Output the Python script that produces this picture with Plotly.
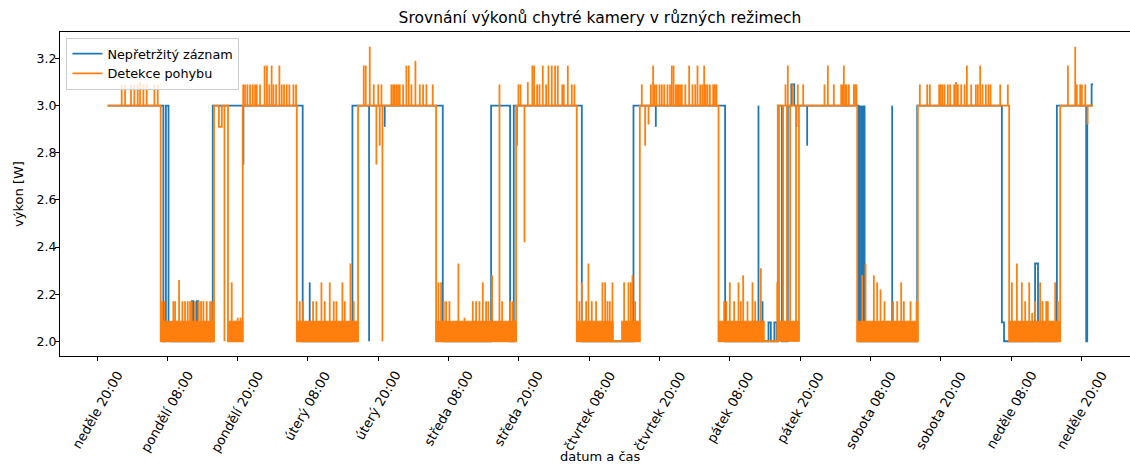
import numpy as np
import pandas as pd
import plotly.graph_objects as go

# casy jsou v hodinach od nedele 20:00
START = pd.Timestamp("2023-03-05 20:00")

# neprerusity zaznam - zmeny urovne (hodina, vykon)
blue_step_h = [1.82, 11.32, 11.75, 12.2, 12.6, 16.2, 16.45, 17.05, 17.3, 19.75,
               35.1, 43.59, 59.01, 67.26, 70.5, 71.13, 82.74, 91.56, 107.2, 114.6,
               115.0, 115.6, 116.0, 116.2, 116.9, 117.9, 118.5, 119.0, 130.0, 139.98,
               154.43, 154.8, 160.1, 160.6, 162.7, 163.0, 163.82, 168.83, 169.0, 169.75,
               170.0]
blue_step_v = [3.0, 2.0, 3.0, 2.08, 2.0, 2.17, 2.0, 2.17, 2.0, 3.0,
               2.0, 3.0, 2.0, 3.0, 2.0, 3.0, 2.0, 3.0, 2.0, 2.08,
               2.0, 2.08, 2.0, 3.0, 2.0, 3.0, 3.09, 3.0, 2.0, 3.0,
               2.08, 2.0, 2.33, 2.0, 2.08, 2.0, 3.0, 2.0, 3.0, 3.09,
               3.09]
# kratke spicky (hodina, vykon)
blue_spikes = [(24.98, 2.75), (36.3, 2.25), (46.43, 2.0), (49.1, 2.91), (95.37, 2.91),
               (112.89, 3.0), (113.58, 2.17), (119.38, 2.91), (121.2, 2.83),
               (130.2, 3.0), (130.4, 3.0), (130.6, 3.0), (130.8, 3.0), (131.0, 3.0),
               (135.71, 3.0)]

# detekce pohybu
orange_step_h = [1.82, 10.87, 19.97, 20.8, 21.3, 22.35, 24.87, 34.1, 44.55, 57.87,
                 71.53, 81.88, 92.64, 106.07, 116.2, 129.74, 140.09, 155.68, 164.39, 170.0]
orange_step_v = [3.0, 2.0, 3.0, 2.91, 3.0, 2.0, 3.0, 2.0, 3.0, 2.0,
                 3.0, 2.0, 3.0, 2.0, 3.0, 2.0, 3.0, 2.0, 3.0, 3.0]
# husty sum mezi 2.0 a 2.085 W behem dne
orange_band_start_h = [10.87, 22.35, 34.1, 57.87, 81.88, 89.56, 106.07, 116.4, 129.74, 155.68]
orange_band_end_h = [19.97, 24.87, 44.55, 71.53, 88.08, 92.64, 113.86, 119.8, 140.09, 164.39]
band_top = 2.085

orange_spikes = [
    # nedele noc
    (4.21, 3.09), (4.78, 3.09), (5.80, 3.09), (6.37, 3.09), (6.94, 3.09), (7.34, 3.10),
    (7.91, 3.09), (8.48, 3.09), (9.79, 3.09), (10.36, 3.09),
    # pondeli den
    (11.1, 2.17), (11.5, 2.17), (13.03, 2.17), (13.32, 2.17), (14.0, 2.26), (14.57, 2.17),
    (15.02, 2.17), (15.48, 2.17), (15.88, 2.17), (16.16, 2.17), (16.73, 2.17), (17.3, 2.17),
    (17.75, 2.17), (18.15, 2.17), (18.72, 2.17), (19.29, 2.17), (19.6, 2.17),
    (21.75, 2.0), (22.99, 2.25), (24.0, 2.1), (24.5, 2.1),
    # pondeli noc
    (24.95, 3.09), (25.26, 3.09), (25.66, 3.09), (26.12, 3.09), (26.57, 3.09), (26.97, 3.09),
    (27.26, 3.09), (27.82, 3.09), (28.6, 3.17), (29.0, 3.17), (29.4, 3.09), (29.8, 3.17),
    (30.1, 3.09), (30.56, 3.09), (31.12, 3.17), (31.52, 3.09), (31.92, 3.09), (32.38, 3.09),
    (32.83, 3.09), (33.52, 3.09), (33.97, 3.09),
    # utery den
    (34.6, 2.17), (35.17, 2.17), (36.87, 2.17), (37.44, 2.17), (38.3, 2.25), (38.86, 2.17),
    (39.72, 2.25), (40.4, 2.17), (40.86, 2.17), (41.88, 2.25), (42.28, 2.17), (43.25, 2.33),
    (43.81, 2.17),
    # utery noc
    (45.52, 3.17), (45.86, 3.17), (46.55, 3.25), (47.23, 3.09), (47.68, 2.75), (48.0, 3.09),
    (48.25, 2.83), (48.54, 3.09), (48.71, 2.0), (50.24, 3.09), (50.53, 3.09), (50.81, 3.09),
    (51.1, 3.09), (51.38, 3.09), (51.67, 3.09), (52.24, 3.09), (52.8, 3.17), (53.2, 3.17),
    (53.66, 3.09), (54.34, 3.19), (55.08, 3.09), (55.65, 3.09), (56.22, 3.09), (57.3, 3.09),
    # streda den
    (58.27, 2.25), (58.72, 2.25), (59.18, 2.17), (59.58, 2.17), (60.15, 2.17), (61.68, 2.33),
    (62.71, 2.1), (64.13, 2.17), (64.7, 2.17), (65.27, 2.17), (65.84, 2.25), (66.4, 2.17),
    (66.8, 2.17), (67.43, 2.28), (68.68, 3.09), (69.14, 2.17), (70.56, 2.17), (70.96, 2.17),
    # streda noc
    (71.7, 2.83), (71.92, 3.09), (72.27, 3.09), (72.95, 2.42), (73.52, 3.1), (74.3, 3.17),
    (74.6, 3.17), (75.11, 3.09), (75.51, 3.09), (76.08, 3.17), (76.65, 3.09), (77.05, 3.17),
    (77.61, 3.17), (78.18, 3.17), (78.64, 3.17), (79.4, 3.09), (79.66, 3.09), (80.35, 3.17),
    (81.03, 3.09), (81.48, 3.09),
    # ctvrtek den
    (82.34, 2.17), (82.74, 2.25), (83.48, 2.17), (83.87, 2.33), (84.44, 2.17), (85.18, 2.17),
    (86.26, 2.25), (86.72, 2.25), (87.12, 2.17), (87.52, 2.17), (87.97, 2.25), (89.96, 2.25),
    (90.7, 2.25), (91.1, 2.25), (91.39, 2.28), (91.84, 2.17),
    # ctvrtek noc
    (92.98, 3.09), (93.55, 2.83), (94.12, 2.92), (94.52, 3.09), (94.91, 3.17), (95.2, 3.09),
    (95.48, 3.09), (96.0, 3.09), (96.39, 3.09), (96.8, 3.09), (97.36, 3.09), (97.8, 3.09),
    (98.1, 3.17), (98.4, 3.17), (98.78, 3.09), (99.0, 3.09), (99.24, 3.09), (99.5, 3.09),
    (99.81, 3.09), (100.4, 3.09), (101.06, 3.17), (101.63, 3.09), (102.1, 3.09), (102.48, 3.17),
    (102.94, 3.09), (103.3, 3.09), (103.62, 3.17), (103.9, 3.09), (104.19, 3.09), (104.6, 3.09),
    (105.16, 3.09), (105.45, 3.09), (105.72, 3.09),
    # patek den
    (107.03, 2.17), (107.4, 2.17), (108.0, 2.25), (108.74, 2.17), (109.48, 2.25), (109.88, 2.17),
    (110.28, 2.28), (111.02, 2.17), (111.87, 2.25), (112.33, 2.17), (113.29, 2.31),
    (116.1, 2.25), (116.4, 2.0), (117.1, 2.0), (117.5, 3.09), (117.75, 2.0), (117.9, 3.17),
    (118.3, 2.0), (118.7, 3.09), (119.3, 2.0), (119.6, 3.09), (119.8, 2.0),
    # patek noc
    (120.52, 3.09), (124.16, 3.09), (124.73, 3.17), (125.75, 3.09), (127.01, 3.09), (127.3, 3.09),
    (127.46, 3.17), (127.7, 3.09), (127.92, 3.09), (128.31, 3.09), (129.17, 3.09), (129.4, 3.09),
    (129.62, 3.09),
    # sobota den
    (130.59, 2.28), (131.16, 2.33), (132.58, 2.28), (133.15, 2.25), (133.72, 2.22), (134.4, 2.17),
    (135.88, 2.17), (136.57, 2.17), (137.25, 2.25), (137.7, 2.17), (138.84, 2.17), (139.87, 2.17),
    # sobota noc
    (140.43, 3.09), (141.69, 3.09), (142.14, 3.09), (143.73, 3.09), (144.0, 3.09), (144.3, 3.09),
    (144.64, 3.09), (145.21, 3.09), (145.61, 3.09), (146.29, 3.09), (146.6, 3.1), (146.92, 3.09),
    (147.49, 3.09), (148.06, 3.09), (148.46, 3.17), (149.2, 3.09), (149.99, 3.09), (150.33, 3.09),
    (150.73, 3.17), (151.13, 3.09), (151.7, 3.09), (152.15, 3.09), (152.5, 3.09), (154.15, 3.09),
    (155.45, 3.09),
    # nedele den
    (156.14, 2.25), (156.99, 2.33), (157.84, 2.25), (158.41, 2.17), (159.1, 2.25), (159.6, 2.12),
    (160.12, 2.17), (160.97, 2.25), (161.37, 2.17), (162.0, 2.17), (162.28, 2.17), (163.53, 2.25),
    (163.99, 2.17),
    # nedele vecer
    (165.7, 3.17), (166.95, 3.25), (167.23, 3.09), (167.8, 3.09), (168.09, 3.09), (168.66, 3.09),
    (169.05, 2.92),
]

tick_times = ["2023-03-05 20:00", "2023-03-06 08:00", "2023-03-06 20:00", "2023-03-07 08:00",
              "2023-03-07 20:00", "2023-03-08 08:00", "2023-03-08 20:00", "2023-03-09 08:00",
              "2023-03-09 20:00", "2023-03-10 08:00", "2023-03-10 20:00", "2023-03-11 08:00",
              "2023-03-11 20:00", "2023-03-12 08:00", "2023-03-12 20:00"]
tick_labels = ["neděle 20:00", "pondělí 08:00", "pondělí 20:00", "úterý 08:00", "úterý 20:00",
               "středa 08:00", "středa 20:00", "čtvrtek 08:00", "čtvrtek 20:00", "pátek 08:00",
               "pátek 20:00", "sobota 08:00", "sobota 20:00", "neděle 08:00", "neděle 20:00"]
y_ticks = [2.0, 2.2, 2.4, 2.6, 2.8, 3.0, 3.2]

BLUE = "#1f77b4"
ORANGE = "#ff7f0e"
LW = 1.8


def to_time(hours):
    return START + pd.to_timedelta(np.asarray(hours, dtype=float), unit="h")


def spike_xy(step_h, step_v, spikes):
    # svisla cara od aktualni urovne k hodnote spicky
    xs, ys = [], []
    for h, v in spikes:
        i = np.searchsorted(step_h, h, side="right") - 1
        t = START + pd.Timedelta(hours=h)
        xs += [t, t, None]
        ys += [step_v[i], v, None]
    return xs, ys


def band_xy(starts, ends, top):
    xs, ys = [], []
    for s, e in zip(to_time(starts), to_time(ends)):
        xs += [s, e, e, s, s, None]
        ys += [2.0, 2.0, top, top, 2.0, None]
    return xs, ys


fig = go.Figure()

fig.add_trace(go.Scatter(x=to_time(blue_step_h), y=blue_step_v, mode="lines",
                         line=dict(color=BLUE, width=LW, shape="hv"),
                         name="Nepřetržitý záznam"))
bx, by = spike_xy(blue_step_h, blue_step_v, blue_spikes)
fig.add_trace(go.Scatter(x=bx, y=by, mode="lines", line=dict(color=BLUE, width=LW),
                         showlegend=False))

ox, oy = band_xy(orange_band_start_h, orange_band_end_h, band_top)
fig.add_trace(go.Scatter(x=ox, y=oy, mode="lines", fill="toself", fillcolor=ORANGE,
                         line=dict(color=ORANGE, width=1.2), showlegend=False))
fig.add_trace(go.Scatter(x=to_time(orange_step_h), y=orange_step_v, mode="lines",
                         line=dict(color=ORANGE, width=LW, shape="hv"),
                         name="Detekce pohybu"))
sx, sy = spike_xy(orange_step_h, orange_step_v, orange_spikes)
fig.add_trace(go.Scatter(x=sx, y=sy, mode="lines", line=dict(color=ORANGE, width=LW),
                         showlegend=False))

# popisky osy x otocene o 60 stupnu, vycentrovane pod ticky
for t, lab in zip(tick_times, tick_labels):
    fig.add_annotation(x=t, y=0, xref="x", yref="paper", text=lab, showarrow=False,
                       textangle=-60, xanchor="center", yanchor="top", yshift=-10,
                       font=dict(size=13.2))
fig.add_annotation(x=START + pd.Timedelta(hours=85.9), y=0, xref="x", yref="paper",
                   text="datum a čas", showarrow=False, xanchor="center", yanchor="middle",
                   yshift=-100, font=dict(size=13))

fig.update_layout(
    width=1130, height=465,
    margin=dict(l=60, r=0, t=32, b=109),
    paper_bgcolor="white", plot_bgcolor="white",
    font=dict(family="DejaVu Sans", size=12, color="black"),
    title=dict(text="Srovnání výkonů chytré kamery v různých režimech",
               x=0.5047, xref="paper", xanchor="center", y=1 - 18 / 465, yanchor="middle",
               font=dict(size=15.5)),
    legend=dict(x=0.006, y=0.982, xanchor="left", yanchor="top", tracegroupgap=0,
                bgcolor="rgba(255,255,255,0.8)", bordercolor="#cccccc", borderwidth=1,
                font=dict(size=12.8)),
)
fig.update_xaxes(type="date", range=[START - pd.Timedelta(hours=6.32), START + pd.Timedelta(hours=176.3)],
                 tickvals=tick_times, showticklabels=False, ticks="outside", ticklen=4,
                 tickcolor="black", showline=True, linecolor="black", linewidth=1, mirror=True,
                 showgrid=False, zeroline=False)
fig.update_yaxes(range=[1.9375, 3.3125], tickvals=y_ticks, tickformat=".1f", ticks="outside",
                 ticklen=4, tickcolor="black", showline=True, linecolor="black", linewidth=1,
                 showgrid=False, zeroline=False, ticklabelstandoff=-4, tickfont=dict(size=12.5),
                 title=dict(text="výkon [W]", font=dict(size=13), standoff=10))

# stranka bez okraje, aby graf zacinal v levem hornim rohu okna
fig.write_html("out.html", config={"displayModeBar": False},
               post_script="document.body.style.margin='0';")
